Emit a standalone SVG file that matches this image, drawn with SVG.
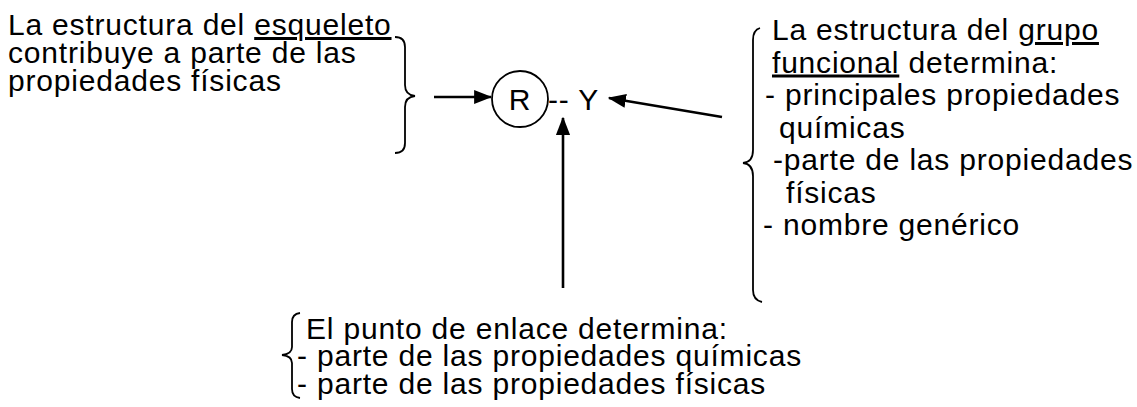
<svg xmlns="http://www.w3.org/2000/svg" width="1137" height="407" viewBox="0 0 1137 407">
<style>
  text { font-family: "Liberation Sans", Arial, sans-serif; font-size: 30px; letter-spacing: 0.8px; fill: #000; }
  .u { text-decoration: underline; }
  .brace { fill: none; stroke: #000; stroke-width: 1.8; }
  .conn { fill: none; stroke: #000; stroke-width: 2.6; }
</style>
<defs>
  <marker id="ah" markerWidth="7" markerHeight="5.4" refX="6.5" refY="2.7" orient="auto" markerUnits="strokeWidth">
    <path d="M0,0 L7,2.7 L0,5.4 Z" fill="#000"/>
  </marker>
</defs>
<rect width="1137" height="407" fill="#fff"/>

<g id="esqueleto">
  <text x="8" y="35">La estructura del <tspan class="u">esqueleto</tspan></text>
  <text x="8" y="63">contribuye a parte de las</text>
  <text x="8" y="91">propiedades físicas</text>
  <path class="brace" d="M395,37 Q405,37 405,47 L405,85 Q405,95 415,96 Q405,97 405,107 L405,143 Q405,153 395,153"/>
</g>

<g id="R">
  <circle cx="520" cy="99" r="28" fill="none" stroke="#000" stroke-width="1.8"/>
  <text x="520" y="110" text-anchor="middle">R</text>
</g>

<g id="Y">
  <text x="548" y="110">-- Y</text>
</g>

<g id="grupo">
  <text x="772" y="40">La estructura del <tspan class="u">grupo</tspan></text>
  <text x="772" y="72.5"><tspan class="u">funcional</tspan> determina:</text>
  <text x="765" y="105">- principales propiedades</text>
  <text x="779" y="137.5">químicas</text>
  <text x="773" y="170">-parte de las propiedades</text>
  <text x="786" y="202.5">físicas</text>
  <text x="763" y="235">- nombre genérico</text>
  <path class="brace" d="M760,28 Q753,30 753,40 L753,150 Q753,162 743,163 Q753,164 753,176 L753,290 Q753,300 762,302"/>
</g>

<g id="enlace">
  <text x="306" y="339">El punto de enlace determina:</text>
  <text x="297" y="366">- parte de las propiedades químicas</text>
  <text x="297" y="394">- parte de las propiedades físicas</text>
  <path class="brace" d="M300,313 Q292,314 292,322 L292,347 Q292,354 282,355 Q292,356 292,363 L292,389 Q292,397 300,398"/>
</g>

<g id="connectors">
  <line class="conn" x1="434" y1="97" x2="491" y2="97" marker-end="url(#ah)"/>
  <line class="conn" x1="722" y1="117" x2="609" y2="98" marker-end="url(#ah)"/>
  <line class="conn" x1="563" y1="288" x2="563" y2="118" marker-end="url(#ah)"/>
</g>
</svg>
